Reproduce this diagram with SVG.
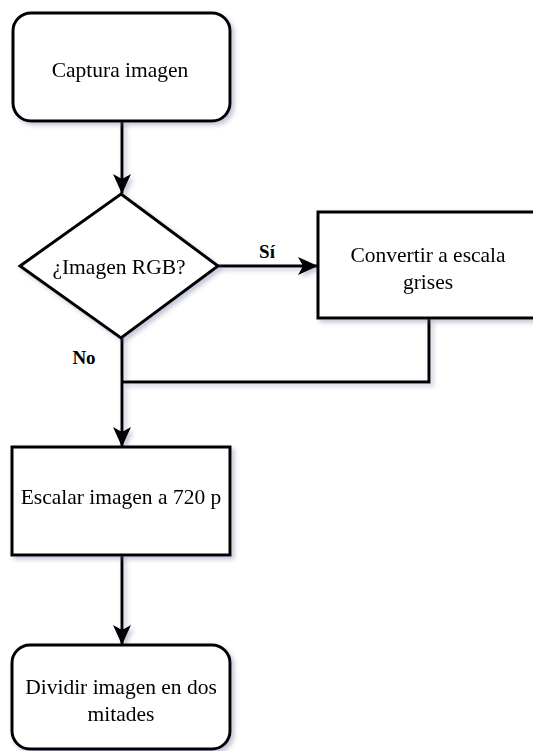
<svg xmlns="http://www.w3.org/2000/svg" width="533" height="751" viewBox="0 0 533 751">
  <defs>
    <filter id="shadow" x="-10%" y="-10%" width="130%" height="130%">
      <feGaussianBlur in="SourceAlpha" stdDeviation="2"/>
      <feOffset dx="3" dy="3" result="b"/>
      <feFlood flood-color="#5a6490" flood-opacity="0.35"/>
      <feComposite in2="b" operator="in"/>
      <feMerge><feMergeNode/><feMergeNode in="SourceGraphic"/></feMerge>
    </filter>
    <marker id="arrow" viewBox="0 0 20 18" refX="19" refY="9" markerWidth="20" markerHeight="18" markerUnits="userSpaceOnUse" orient="auto">
      <path d="M0,0 L20,9 L0,18 L5,9 Z" fill="#000"/>
    </marker>
  </defs>
  <style>
    .shape { fill: #fff; stroke: #000; stroke-width: 3; }
    .edge { fill: none; stroke: #000; stroke-width: 3; }
    .label { font-family: "Liberation Serif", "Times New Roman", serif; font-size: 21.5px; fill: #000; text-anchor: middle; }
    .bold { font-weight: bold; font-size: 19px; }
  </style>

  <g id="edges" filter="url(#shadow)">
    <path class="edge" d="M122,121 V193" marker-end="url(#arrow)"/>
    <path class="edge" d="M217,266 H317" marker-end="url(#arrow)"/>
    <path class="edge" d="M122,338 V446" marker-end="url(#arrow)"/>
    <path class="edge" d="M429,318 V382 H122"/>
    <path class="edge" d="M122,555 V644" marker-end="url(#arrow)"/>
  </g>

  <g id="edge-labels">
    <text class="label bold" x="267" y="258">Sí</text>
    <text class="label bold" x="84" y="364">No</text>
  </g>

  <g id="captura" filter="url(#shadow)">
    <rect class="shape" x="13" y="13" width="217" height="108" rx="18" ry="18"/>
    <text class="label" x="120" y="77">Captura imagen</text>
  </g>

  <g id="rgb" filter="url(#shadow)">
    <polygon class="shape" points="121,194 218,266 121,338 20,266"/>
    <text class="label" x="119" y="274">¿Imagen RGB?</text>
  </g>

  <g id="grises" filter="url(#shadow)">
    <rect class="shape" x="318" y="212" width="222" height="106"/>
    <text class="label" x="428" y="262">Convertir a escala</text>
    <text class="label" x="428" y="289">grises</text>
  </g>

  <g id="escalar" filter="url(#shadow)">
    <rect class="shape" x="12" y="447" width="218" height="108"/>
    <text class="label" x="121" y="504">Escalar imagen a 720 p</text>
  </g>

  <g id="dividir" filter="url(#shadow)">
    <rect class="shape" x="12" y="645" width="218" height="104" rx="18" ry="18"/>
    <text class="label" x="121" y="694">Dividir imagen en dos</text>
    <text class="label" x="121" y="721">mitades</text>
  </g>
</svg>
